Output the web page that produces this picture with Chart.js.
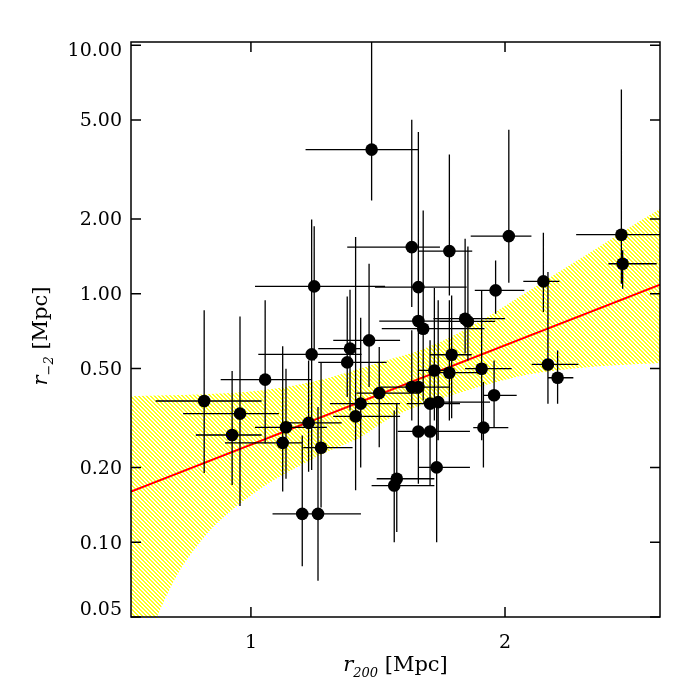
<!DOCTYPE html>
<html>
<head>
<meta charset="utf-8">
<script src="https://cdn.jsdelivr.net/npm/chart.js@4.4.1/dist/chart.umd.min.js"></script>
<style>
  html, body { margin: 0; padding: 0; background: #fff; }
</style>
</head>
<body>
<canvas id="chart" width="700" height="700"></canvas>
<script>
// clusters: r200 with its error range, r_-2 with its error range (Mpc)
const r200   = [0.816, 0.957, 0.926, 1.056, 1.125, 1.138, 1.202, 1.227, 1.239, 1.249, 1.264, 1.276,
                1.379, 1.390, 1.412, 1.432, 1.465, 1.475, 1.505, 1.574, 1.564, 1.633, 1.633, 1.659,
                1.659, 1.659, 1.659, 1.678, 1.705, 1.705, 1.722, 1.731, 1.737, 1.781, 1.781, 1.790,
                1.843, 1.854, 1.908, 1.915, 1.957, 1.963, 2.015, 2.151, 2.169, 2.207, 2.458, 2.463]
const r200Lo = [0.625, 0.733, 0.783, 0.881, 0.898, 1.016, 1.085, 1.127, 1.029, 1.016, 1.177, 1.206,
                1.265, 1.265, 1.324, 1.311, 1.324, 1.215, 1.416, 1.495, 1.475, 1.379, 1.547, 1.488,
                1.505, 1.508, 1.578, 1.515, 1.613, 1.578, 1.659, 1.659, 1.677, 1.659, 1.718, 1.705,
                1.718, 1.744, 1.843, 1.875, 1.915, 1.881, 1.865, 2.072, 2.105, 2.170, 2.280, 2.407]
const r200Hi = [1.042, 1.110, 1.042, 1.239, 1.200, 1.299, 1.311, 1.357, 1.436, 1.528, 1.433, 1.400,
                1.534, 1.433, 1.587, 1.587, 1.587, 1.659, 1.665, 1.722, 1.722, 1.744, 1.783, 1.849,
                1.790, 1.783, 1.862, 1.919, 1.823, 1.862, 1.783, 1.862, 1.941, 1.871, 1.902, 1.869,
                2.000, 1.961, 2.026, 2.013, 2.046, 2.076, 2.104, 2.214, 2.289, 2.269, 2.700, 2.597]
const rm2    = [0.370, 0.329, 0.270, 0.451, 0.251, 0.290, 0.130, 0.302, 0.570, 1.070, 0.130, 0.240,
                0.529, 0.601, 0.321, 0.361, 0.649, 3.80, 0.398, 0.180, 0.169, 1.540, 0.421, 1.063,
                0.776, 0.421, 0.279, 0.723, 0.361, 0.279, 0.491, 0.200, 0.366, 1.484, 0.481, 0.568,
                0.793, 0.774, 0.499, 0.289, 0.390, 1.031, 1.705, 1.121, 0.519, 0.459, 1.727, 1.320]
const rm2Lo  = [0.190, 0.140, 0.170, 0.249, 0.160, 0.180, 0.080, 0.192, 0.195, 0.539, 0.070, 0.138,
                0.384, 0.339, 0.162, 0.200, 0.421, 2.37, 0.241, 0.110, 0.100, 0.883, 0.309, 0.309,
                0.448, 0.177, 0.172, 0.372, 0.282, 0.169, 0.309, 0.100, 0.257, 0.984, 0.309, 0.315,
                0.574, 0.539, 0.257, 0.200, 0.290, 0.831, 1.107, 0.843, 0.361, 0.361, 1.097, 1.047]
const rm2Hi  = [0.857, 0.810, 0.488, 0.940, 0.615, 0.499, 0.269, 0.539, 1.99, 1.87, 0.350, 0.526,
                0.975, 1.038, 1.690, 0.800, 1.320, 12.0, 0.610, 0.362, 0.339, 5.01, 0.712, 4.47,
                1.494, 0.649, 0.448, 2.16, 0.649, 0.491, 1.053, 0.372, 0.940, 3.63, 0.940, 0.984,
                1.664, 1.550, 1.038, 0.441, 0.539, 1.361, 4.57, 1.760, 1.222, 0.591, 6.64, 1.494]

// best fit (red) and its confidence band (yellow)
const fitX = [0.528, 2.610]
const fitY = [0.160, 1.087]
const bandUpX = [0.528, 0.681, 0.839, 1.000, 1.154, 1.311, 1.429, 1.547, 1.665, 1.776, 1.921, 2.059, 2.177, 2.335, 2.453, 2.610]
const bandUpY = [0.387, 0.390, 0.395, 0.404, 0.424, 0.460, 0.500, 0.544, 0.592, 0.661, 0.796, 0.975, 1.163, 1.466, 1.748, 2.198]
const bandLoX = [0.528, 0.583, 0.630, 0.720, 0.839, 0.957, 1.075, 1.193, 1.311, 1.429, 1.547, 1.665, 1.811, 2.071, 2.335, 2.610]
const bandLoY = [0.020, 0.0367, 0.050, 0.077, 0.1116, 0.1432, 0.174, 0.2037, 0.234, 0.264, 0.315, 0.355, 0.397, 0.469, 0.507, 0.526]

const xTicks = [1, 2]
const xTickLabels = ['1', '2']
const yTicks = [0.05, 0.1, 0.2, 0.5, 1, 2, 5, 10]
const yTickLabels = ['0.05', '0.10', '0.20', '0.50', '1.00', '2.00', '5.00', '10.00']

const FONT = '"DejaVu Serif", serif'

// fine yellow/white diagonal hatch for the band
function hatch() {
  const c = document.createElement('canvas')
  c.width = 8; c.height = 8
  const g = c.getContext('2d')
  const img = g.createImageData(8, 8)
  for (let j = 0; j < 8; j++) {
    for (let i = 0; i < 8; i++) {
      const k = (j * 8 + i) * 4
      const white = ((i - j + 16) % 4) < 2
      img.data[k] = 255; img.data[k + 1] = 255; img.data[k + 2] = white ? 255 : 30; img.data[k + 3] = 255
    }
  }
  g.putImageData(img, 0, 0)
  return g.createPattern(c, 'repeat')
}

// draw a string made of [text, font, dy] parts, centred on (cx, cy)
function drawParts(ctx, parts, cx, cy) {
  let w = 0
  parts.forEach(p => { ctx.font = p[1]; w += ctx.measureText(p[0]).width })
  let x = cx - w / 2
  ctx.textAlign = 'left'
  ctx.textBaseline = 'alphabetic'
  parts.forEach(p => {
    ctx.font = p[1]
    ctx.fillText(p[0], x, cy + p[2])
    x += ctx.measureText(p[0]).width
  })
}

const errorBars = {
  id: 'errorBars',
  beforeDatasetDraw(chart, args) {
    if (args.index !== 0) return
    const { ctx, chartArea: a, scales: { x, y } } = chart
    ctx.save()
    ctx.beginPath()
    ctx.rect(a.left, a.top, a.right - a.left, a.bottom - a.top)
    ctx.clip()
    ctx.strokeStyle = '#000'
    ctx.lineWidth = 1.3
    ctx.beginPath()
    r200.forEach((v, i) => {
      const px = x.getPixelForValue(v)
      const py = y.getPixelForValue(rm2[i])
      ctx.moveTo(x.getPixelForValue(r200Lo[i]), py)
      ctx.lineTo(x.getPixelForValue(r200Hi[i]), py)
      ctx.moveTo(px, y.getPixelForValue(rm2Hi[i]))
      ctx.lineTo(px, y.getPixelForValue(rm2Lo[i]))
    })
    ctx.stroke()
    ctx.restore()
  }
}

const frame = {
  id: 'frame',
  afterDraw(chart) {
    const { ctx, chartArea: a, scales: { x, y } } = chart
    ctx.save()
    ctx.strokeStyle = '#000'
    ctx.lineWidth = 1.5
    ctx.strokeRect(a.left, a.top, a.right - a.left, a.bottom - a.top)
    ctx.beginPath()
    yTicks.forEach(v => {
      const py = y.getPixelForValue(v)
      ctx.moveTo(a.left, py); ctx.lineTo(a.left + 10, py)
      ctx.moveTo(a.right, py); ctx.lineTo(a.right - 10, py)
    })
    xTicks.forEach(v => {
      const px = x.getPixelForValue(v)
      ctx.moveTo(px, a.bottom); ctx.lineTo(px, a.bottom - 10)
      ctx.moveTo(px, a.top); ctx.lineTo(px, a.top + 10)
    })
    ctx.stroke()

    ctx.fillStyle = '#000'
    ctx.font = '19px ' + FONT
    ctx.textAlign = 'right'
    ctx.textBaseline = 'middle'
    yTicks.forEach((v, i) => {
      const py = Math.min(Math.max(y.getPixelForValue(v) + 1.5, a.top + 9), a.bottom - 7)
      ctx.fillText(yTickLabels[i], a.left - 9, py)
    })
    ctx.textAlign = 'center'
    ctx.textBaseline = 'alphabetic'
    xTicks.forEach((v, i) => {
      ctx.fillText(xTickLabels[i], x.getPixelForValue(v), 648)
    })

    drawParts(ctx, [
      ['r', 'italic 21px ' + FONT, 0],
      ['200', 'italic 13px ' + FONT, 6],
      [' [Mpc]', '21px ' + FONT, 0]
    ], (a.left + a.right) / 2, 671)

    ctx.translate(47, 336)
    ctx.rotate(-Math.PI / 2)
    drawParts(ctx, [
      ['r', 'italic 21px ' + FONT, 0],
      ['\u22122', 'italic 13px ' + FONT, 6],
      [' [Mpc]', '21px ' + FONT, 0]
    ], 0, 0)
    ctx.restore()
  }
}

new Chart(document.getElementById('chart'), {
  data: {
    datasets: [
      {
        type: 'scatter',
        data: r200.map((v, i) => ({ x: v, y: rm2[i] })),
        backgroundColor: '#000',
        borderWidth: 0,
        pointRadius: 6.3,
        order: 0
      },
      {
        type: 'line',
        data: fitX.map((v, i) => ({ x: v, y: fitY[i] })),
        borderColor: '#ff0000',
        borderWidth: 2,
        pointRadius: 0,
        fill: false,
        order: 1
      },
      {
        type: 'line',
        data: bandUpX.map((v, i) => ({ x: v, y: bandUpY[i] })),
        borderWidth: 0,
        borderColor: 'rgba(0,0,0,0)',
        backgroundColor: hatch(),
        pointRadius: 0,
        tension: 0.3,
        fill: '+1',
        order: 2
      },
      {
        type: 'line',
        data: bandLoX.map((v, i) => ({ x: v, y: bandLoY[i] })),
        borderWidth: 0,
        borderColor: 'rgba(0,0,0,0)',
        pointRadius: 0,
        tension: 0.3,
        fill: false,
        order: 3
      }
    ]
  },
  options: {
    responsive: false,
    animation: false,
    devicePixelRatio: 1,
    layout: { padding: { left: 0, right: 40, top: 42, bottom: 0 } },
    plugins: { legend: { display: false }, tooltip: { enabled: false } },
    scales: {
      x: {
        type: 'linear',
        min: 0.528,
        max: 2.61,
        grid: { display: false },
        border: { display: false },
        ticks: { display: false },
        afterFit: s => { s.height = 83 }
      },
      y: {
        type: 'logarithmic',
        min: 0.05,
        max: 10.3,
        grid: { display: false },
        border: { display: false },
        ticks: { display: false },
        afterFit: s => { s.width = 131 }
      }
    }
  },
  plugins: [errorBars, frame]
})
</script>
</body>
</html>
